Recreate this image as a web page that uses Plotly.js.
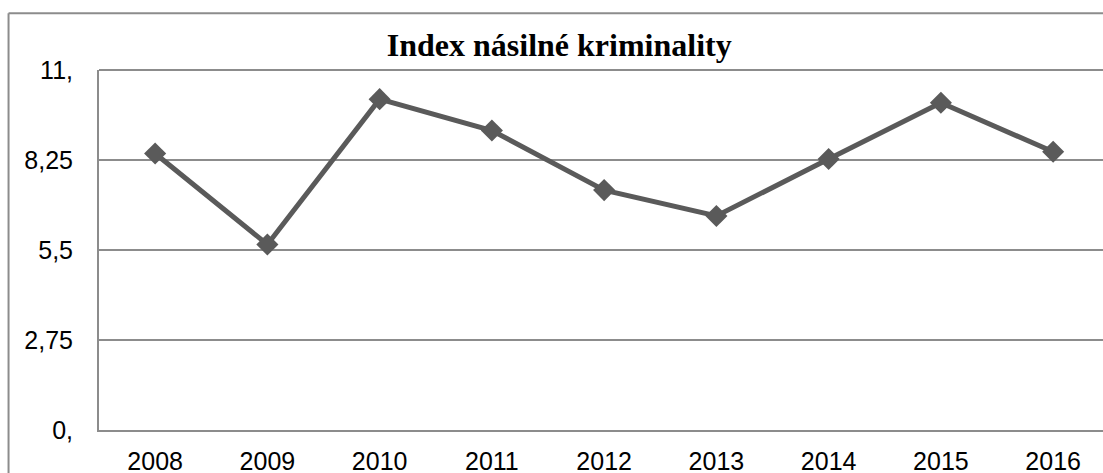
<!DOCTYPE html>
<html>
<head>
<meta charset="utf-8">
<script src="https://cdn.plot.ly/plotly-3.0.1.min.js"></script>
<style>
html,body{margin:0;padding:0;background:#fff;overflow:hidden;}
#chart{width:1103px;height:473px;}
</style>
</head>
<body>
<div id="chart"></div>
<script>
const years = ['2008','2009','2010','2011','2012','2013','2014','2015','2016'];
const indexValues = [8.45, 5.67, 10.11, 9.15, 7.33, 6.54, 8.28, 10.0, 8.50];
const yTickVals = [0, 2.75, 5.5, 8.25, 11];
const yTickText = ['0,', '2,75', '5,5', '8,25', '11,'];
const chartTitle = 'Index násilné kriminality';

const gridColor = '#8c8c8c';
const trace = {
  x: years,
  y: indexValues,
  type: 'scatter',
  mode: 'lines+markers',
  line: {color: '#5a5a5a', width: 5},
  marker: {symbol: 'diamond', size: 17, color: '#5a5a5a'},
  hoverinfo: 'x+y'
};

const layout = {
  width: 1103,
  height: 473,
  margin: {l: 99, r: 0, t: 70, b: 43},
  paper_bgcolor: '#fff',
  plot_bgcolor: '#fff',
  showlegend: false,
  title: {
    text: '<b>' + chartTitle + '</b>',
    font: {family: '"Liberation Serif", "Times New Roman", serif', size: 32, color: '#000'},
    x: 0.507, xref: 'container', xanchor: 'center',
    y: 0.905, yref: 'container', yanchor: 'middle'
  },
  xaxis: {
    type: 'category',
    range: [-0.5, 8.444],
    showgrid: false,
    zeroline: false,
    showline: true,
    linecolor: gridColor,
    linewidth: 2,
    ticks: 'outside',
    ticklen: 8,
    tickcolor: 'rgba(0,0,0,0)',
    tickfont: {family: '"Liberation Sans", Arial, sans-serif', size: 25, color: '#000'}
  },
  yaxis: {
    range: [0, 11],
    tickvals: yTickVals,
    ticktext: yTickText,
    showgrid: true,
    gridcolor: gridColor,
    gridwidth: 2,
    zeroline: false,
    showline: true,
    linecolor: gridColor,
    linewidth: 2,
    ticks: 'outside',
    ticklen: 19,
    tickcolor: 'rgba(0,0,0,0)',
    tickfont: {family: '"Liberation Sans", Arial, sans-serif', size: 25, color: '#000'}
  },
  shapes: [
    {type: 'line', xref: 'paper', yref: 'paper', x0: -0.0901, x1: -0.0901, y0: -0.2, y1: 1.1575,
     line: {color: gridColor, width: 2}},
    {type: 'line', xref: 'paper', yref: 'paper', x0: -0.0901, x1: 1.01, y0: 1.1575, y1: 1.1575,
     line: {color: gridColor, width: 2}},
    {type: 'line', xref: 'paper', yref: 'paper', x0: 0, x1: 1.01, y0: 1, y1: 1,
     line: {color: gridColor, width: 2}, layer: 'below'}
  ]
};

Plotly.newPlot('chart', [trace], layout, {displayModeBar: false, staticPlot: false});
</script>
</body>
</html>
